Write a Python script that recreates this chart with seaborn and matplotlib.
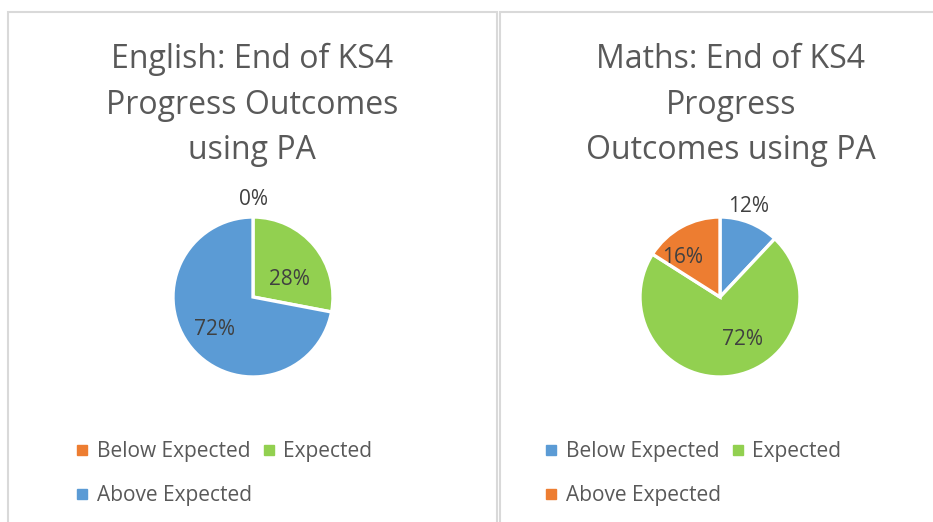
import numpy as np
import matplotlib
matplotlib.use("Agg")
import matplotlib.pyplot as plt
import seaborn as sns
from matplotlib.patches import Rectangle
from matplotlib.lines import Line2D

# ---------------- data ----------------
categories = ["Below Expected", "Expected", "Above Expected"]
english_values = [0, 28, 72]
maths_values = [12, 72, 16]
english_title = "English: End of KS4\nProgress Outcomes\nusing PA"
maths_title = "Maths: End of KS4\nProgress\nOutcomes using PA"

# ---------------- style ----------------
sns.set_theme(style="white")
plt.rcParams["font.family"] = ["Open Sans", "DejaVu Sans"]

BLUE, ORANGE, GREEN = "#5B9BD5", "#ED7D31", "#92D050"
english_colors = [ORANGE, GREEN, BLUE]
maths_colors = [BLUE, GREEN, ORANGE]
# (distance in radii, angular shift in degrees) for each data label
english_label_pos = [(1.22, 0.0), (0.50, -14.0), (0.63, 1.2)]
maths_label_pos = [(1.18, 4.3), (0.60, 20.5), (0.68, 15.3)]

W, H = 933, 522
fig = plt.figure(figsize=(W / 100, H / 100), dpi=100)
fig.patch.set_facecolor("white")

# panel borders
for x0, x1 in [(8, 497), (500, 940)]:
    fig.patches.append(Rectangle((x0 / W, -0.1), (x1 - x0) / W, (H - 12) / H + 0.1,
                                 transform=fig.transFigure, fill=False,
                                 edgecolor="#D9D9D9", linewidth=1.5))


def draw_pie(cx, cy, values, colors, label_pos, title, tx, leg_x):
    size = 200
    ax = fig.add_axes([(cx - size / 2) / W, (H - cy - size / 2) / H, size / W, size / H])
    wedges, _ = ax.pie(values, colors=colors, startangle=90, counterclock=False,
                       radius=1.0, wedgeprops=dict(edgecolor="white", linewidth=2.4))
    total = float(sum(values))
    for w, v, (d, shift) in zip(wedges, values, label_pos):
        ang = np.deg2rad((w.theta1 + w.theta2) / 2 + shift)
        ax.text(d * np.cos(ang), d * np.sin(ang), f"{v / total * 100:.0f}%",
                ha="center", va="center", fontsize=15, color="#404040")
    ax.set_xlim(-1.25, 1.25)
    ax.set_ylim(-1.25, 1.25)
    ax.set_aspect("equal")
    ax.axis("off")

    fig.text(tx / W, (H - 43) / H, title, ha="center", va="top", fontsize=23,
             color="#595959", linespacing=1.5, transform=fig.transFigure)

    handles = [Line2D([], [], marker="s", linestyle="", markersize=6.5,
                      markerfacecolor=c, markeredgecolor=c) for c in colors]
    order = [0, 2, 1]
    fig.legend([handles[i] for i in order], [categories[i] for i in order],
               ncol=2, loc="upper left", bbox_to_anchor=(leg_x / W, (H - 441) / H),
               frameon=False, fontsize=15, handlelength=0.6, handletextpad=0.4,
               columnspacing=0.5, labelspacing=1.1, borderaxespad=0, borderpad=0,
               labelcolor="#595959")


draw_pie(253, 297, english_values, english_colors, english_label_pos, english_title, 252, 76)
draw_pie(720, 297, maths_values, maths_colors, maths_label_pos, maths_title, 731, 545)

fig.savefig("out.png", dpi=100)
